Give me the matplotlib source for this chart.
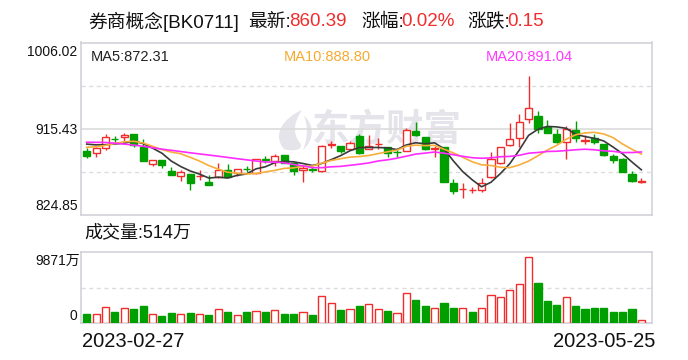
import matplotlib
matplotlib.use("Agg")
import matplotlib.pyplot as plt
from matplotlib import font_manager
from matplotlib.patches import Rectangle, PathPatch
from matplotlib.path import Path

# ---- data (券商概念 BK0711, daily, 2023-02-27 .. 2023-05-25) ----
board_name = "券商概念[BK0711]"
date_labels = ["2023-02-27", "2023-05-25"]

opens = [891.99, 889.58, 895.45, 904.79, 906.36, 909.82, 896.19, 878.67, 882.55, 871.01,
         865.45, 867.86, 865.56, 859.47, 864.40, 872.06, 868.60, 873.63, 868.60, 883.49,
         881.82, 887.48, 879.09, 871.75, 873.00, 870.70, 897.97, 897.24, 893.77, 907.73,
         894.40, 899.02, 895.87, 891.47, 892.31, 912.97, 906.68, 893.77, 896.19, 858.11,
         851.92, 850.87, 851.08, 864.40, 879.09, 897.97, 905.31, 925.24, 928.71, 917.48,
         909.82, 901.75, 913.71, 903.00, 905.31, 899.33, 886.74, 883.60, 867.86, 859.16]
highs = [895.45, 896.00, 909.51, 907.41, 910.87, 910.35, 904.58, 883.07, 883.10, 874.89,
         872.06, 868.40, 872.06, 866.50, 879.09, 878.04, 873.10, 875.94, 884.10, 886.75,
         888.53, 887.80, 879.40, 877.30, 875.52, 897.97, 902.48, 897.55, 902.48, 909.82,
         908.77, 905.31, 896.19, 894.82, 915.80, 922.10, 907.00, 897.24, 896.40, 862.62,
         858.11, 854.54, 863.98, 891.26, 896.20, 921.68, 930.80, 970.67, 933.95, 924.51,
         914.75, 918.22, 923.46, 908.77, 909.51, 899.50, 888.84, 884.65, 871.33, 863.35]
lows = [884.33, 886.01, 893.04, 901.75, 902.48, 896.50, 881.50, 876.57, 874.47, 867.00,
        860.52, 851.08, 861.57, 856.30, 864.10, 864.70, 865.77, 870.28, 868.40, 879.09,
        875.94, 879.40, 866.81, 859.79, 870.28, 870.50, 894.82, 890.21, 893.56, 889.37,
        893.77, 893.77, 886.01, 886.01, 892.10, 908.04, 893.04, 886.01, 859.60, 846.88,
        843.00, 848.25, 849.30, 864.20, 878.04, 897.76, 896.50, 921.68, 910.56, 910.70,
        900.70, 883.91, 901.75, 899.33, 899.33, 886.74, 879.72, 870.10, 859.60, 858.95]
closes = [887.06, 895.45, 906.36, 904.37, 908.46, 898.28, 881.82, 882.55, 877.62, 867.13,
          869.65, 858.74, 865.98, 856.64, 872.06, 865.03, 872.79, 873.21, 883.28, 883.07,
          886.43, 879.72, 871.01, 874.47, 872.58, 896.92, 899.65, 892.31, 900.07, 889.58,
          897.24, 899.54, 890.21, 891.05, 914.02, 908.77, 894.09, 895.45, 859.79, 850.35,
          852.34, 851.29, 858.74, 883.28, 895.87, 904.26, 922.10, 936.78, 915.38, 910.87,
          901.75, 914.75, 905.31, 903.42, 901.75, 887.79, 882.55, 870.28, 860.24, 860.39]

# volume in 万, and whether the volume bar is drawn red (1) or green (0)
volumes = [1435, 1390, 2430, 1730, 2280, 2180, 2620, 1390, 1140, 1580,
           1390, 1580, 1390, 1290, 2130, 1730, 1240, 1730, 1830, 1730,
           1980, 1435, 1435, 1690, 1290, 4050, 3020, 2030, 2130, 2620,
           2870, 2130, 1880, 1540, 4500, 3510, 2620, 2280, 3060, 2320,
           2280, 1730, 2280, 4200, 3910, 4940, 5830, 9871, 6020, 3360,
           2770, 3910, 2620, 2180, 2320, 2320, 1730, 1730, 2180, 514]
vol_up = [0, 1, 1, 0, 1, 0, 0, 1, 0, 0, 1, 0, 1, 0, 1, 0, 1, 0, 1, 0,
          1, 0, 0, 1, 0, 1, 1, 0, 1, 0, 1, 1, 0, 1, 1, 0, 0, 1, 0, 0,
          1, 0, 1, 1, 1, 1, 1, 1, 0, 0, 0, 1, 0, 0, 0, 0, 0, 0, 0, 1]

ma5 = [899.30, 898.50, 898.60, 899.50, 900.34, 902.58, 899.86, 895.10, 889.75, 881.48,
       875.75, 871.14, 867.82, 863.63, 864.61, 863.69, 866.50, 867.95, 873.27, 875.48,
       879.76, 881.14, 880.70, 878.94, 876.84, 878.94, 882.93, 887.19, 892.31, 895.71,
       895.77, 895.75, 895.33, 893.52, 898.41, 900.72, 899.63, 900.68, 894.42, 881.69,
       870.40, 861.84, 854.50, 859.20, 868.30, 878.69, 892.85, 908.46, 914.88, 917.88,
       917.38, 915.91, 909.61, 907.22, 905.40, 902.60, 896.16, 889.16, 880.52, 872.31]
ma10 = [896.00, 896.50, 898.00, 900.00, 901.80, 902.30, 900.50, 897.00, 893.50, 890.91,
        889.17, 885.50, 881.46, 876.69, 873.05, 869.72, 868.82, 867.89, 868.45, 870.05,
        871.72, 873.82, 874.32, 876.11, 876.16, 879.35, 882.03, 883.94, 885.62, 886.27,
        887.36, 889.34, 891.26, 892.92, 897.06, 898.24, 897.69, 898.00, 893.97, 890.05,
        885.56, 880.74, 877.59, 876.81, 875.00, 874.55, 877.35, 881.48, 887.04, 893.09,
        898.03, 904.38, 909.04, 911.05, 911.64, 909.99, 906.04, 899.39, 893.87, 888.80]
ma20 = [901.30, 901.20, 901.00, 900.30, 899.30, 898.30, 897.00, 895.50, 894.00, 892.80,
        891.50, 890.20, 889.00, 887.80, 886.60, 885.30, 884.00, 882.80, 881.60, 880.48,
        880.45, 879.66, 877.89, 876.40, 874.61, 874.54, 875.43, 875.92, 877.04, 878.16,
        879.54, 881.58, 882.79, 884.52, 886.61, 888.80, 889.86, 890.97, 889.80, 888.16,
        886.46, 885.04, 884.43, 884.87, 886.03, 886.40, 887.52, 889.74, 890.51, 891.57,
        891.80, 892.56, 893.32, 893.93, 893.32, 892.27, 891.70, 890.44, 890.46, 891.04]

price_axis = [824.85, 915.43, 1006.02]   # min / mid / max labels of the price panel
vol_axis_top = 10600                      # volume panel upper limit (万)

# ---- style ----
RED = "#f02c2c"
GREEN = "#009f00"
BORDER = "#d2d2da"
GRID = "#dcdcdc"
MA_COLORS = ["#3a3a3a", "#f7ae3a", "#ff2bff"]
MA_TEXT = ["#222222", "#f5aa30", "#ff38ff"]

names = {f.name for f in font_manager.fontManager.ttflist}
NARROW = "Liberation Sans Narrow" if "Liberation Sans Narrow" in names else None
FAM = ["Liberation Sans", "Noto Sans CJK SC", "DejaVu Sans"]
plt.rcParams["font.family"] = FAM

W, H = 688, 360
fig = plt.figure(figsize=(W / 100, H / 100), dpi=100)

# background layer in pixel coordinates (texts, watermark)
bg = fig.add_axes([0, 0, 1, 1], zorder=0)
bg.set_xlim(0, W)
bg.set_ylim(H, 0)
bg.axis("off")

L, R = 80.7, 651.7
P_TOP, P_BOT = 42.5, 215.0
V_TOP, V_BOT = 251.7, 323.3
ax = fig.add_axes([L / W, 1 - P_BOT / H, (R - L) / W, (P_BOT - P_TOP) / H], zorder=1)
axv = fig.add_axes([L / W, 1 - V_BOT / H, (R - L) / W, (V_BOT - V_TOP) / H], zorder=1)

n = len(closes)
xs = list(range(n))
for a in (ax, axv):
    a.patch.set_alpha(0)
    a.set_xlim(-0.64, n + 0.1)
    a.set_xticks([])
    a.set_yticks([])
    for s in a.spines.values():
        s.set_color(BORDER)
        s.set_linewidth(1.2)

# ---- watermark ----
flame = Path([(284, 149), (272, 135), (283, 118), (302, 110), (294, 122), (292, 133), (300, 143),
              (305, 150), (292, 152), (284, 149), (284, 149)],
             [Path.MOVETO, Path.CURVE4, Path.CURVE4, Path.CURVE4, Path.CURVE4, Path.CURVE4,
              Path.CURVE4, Path.CURVE4, Path.CURVE4, Path.CURVE4, Path.CLOSEPOLY])
stroke = Path([(304, 116), (315, 125), (314, 140), (303, 150), (308, 138), (308, 126), (304, 116), (304, 116)],
              [Path.MOVETO, Path.CURVE4, Path.CURVE4, Path.CURVE4, Path.CURVE4, Path.CURVE4,
               Path.CURVE4, Path.CLOSEPOLY])
for p in (flame, stroke):
    bg.add_patch(PathPatch(p, facecolor="#e4e4ea", edgecolor="none"))
bg.text(387, 130, "东方财富", fontsize=27, fontweight="bold", color="#e4e4ea",
        ha="center", va="center", family=["Noto Sans CJK SC"])

# ---- price panel ----
ymin, ymid, ymax = price_axis
ax.set_ylim(ymin, ymax)
span = ymax - ymin
ax.axhline(ymin + span * 0.25, color=GRID, lw=1, ls=(0, (3, 2.5)), zorder=1)
ax.axhline(ymid, color=GRID, lw=1.2, zorder=1)
ax.axhline(ymin + span * 0.75, color=GRID, lw=1, ls=(0, (3, 2.5)), zorder=1)

bw = 0.76
for i in xs:
    o, h, l, c = opens[i], highs[i], lows[i], closes[i]
    up = c >= o
    col = RED if up else GREEN
    ax.vlines(i, l, h, color=col, lw=1, zorder=2)
    lo, hi = min(o, c), max(o, c)
    ax.add_patch(Rectangle((i - bw / 2, lo), bw, hi - lo, facecolor="white" if up else col,
                           edgecolor=col, lw=1, zorder=3))

for vals, col in zip((ma5, ma10, ma20), MA_COLORS):
    ax.plot(xs, vals, color=col, lw=1.2, zorder=4, solid_joinstyle="round")

# ---- volume panel ----
axv.set_ylim(0, vol_axis_top)
axv.axhline(vol_axis_top / 2, color=GRID, lw=1, ls=(0, (3, 2.5)), zorder=1)
for i in xs:
    col = RED if vol_up[i] else GREEN
    axv.add_patch(Rectangle((i - bw / 2, 0), bw, volumes[i], facecolor="white" if vol_up[i] else col,
                            edgecolor=col, lw=1, zorder=3))

# ---- texts ----
chg = closes[-1] - closes[-2]
pct = chg / closes[-2] * 100
title_parts = [
    (88.5, board_name, "#111111"),
    (248, "最新:", "#111111"),
    (289, f"{closes[-1]:.2f}", RED),
    (361, "涨幅:", "#111111"),
    (401.5, f"{pct:.2f}%", RED),
    (467, "涨跌:", "#111111"),
    (507, f"{chg:.2f}", RED),
]
for x, s, col in title_parts:
    bg.text(x, 22, s, fontsize=13.5, color=col, ha="left", va="center")

# price labels: max at top, mid at the solid grid line, min at the bottom
for v, y in zip(price_axis, (206, 129.5, 52)):
    bg.text(77.5, y, f"{v:.2f}", fontsize=10, ha="right", va="center", color="#111111")

ma_x = [91, 283.7, 486]
for x, lab, vals, col in zip(ma_x, ("MA5", "MA10", "MA20"), (ma5, ma10, ma20), MA_TEXT):
    if NARROW:
        bg.text(x, 57, f"{lab}:{vals[-1]:.2f}", fontsize=12.5, color=col, ha="left", va="center",
                family=[NARROW, "Noto Sans CJK SC"])
    else:
        bg.text(x, 57, f"{lab}:{vals[-1]:.2f}", fontsize=10.5, color=col, ha="left", va="center")

bg.text(84, 233, f"成交量:{volumes[-1]}万", fontsize=13, ha="left", va="center", color="#111111")
bg.text(79.5, 261, f"{max(volumes)}万", fontsize=10, ha="right", va="center", color="#111111")
bg.text(77.5, 316, "0", fontsize=10, ha="right", va="center", color="#111111")

bg.text(82, 341.5, date_labels[0], fontsize=14.5, ha="left", va="center", color="#111111")
bg.text(655, 341.5, date_labels[1], fontsize=14.5, ha="right", va="center", color="#111111")

fig.savefig("out.png", dpi=100, facecolor="white")
